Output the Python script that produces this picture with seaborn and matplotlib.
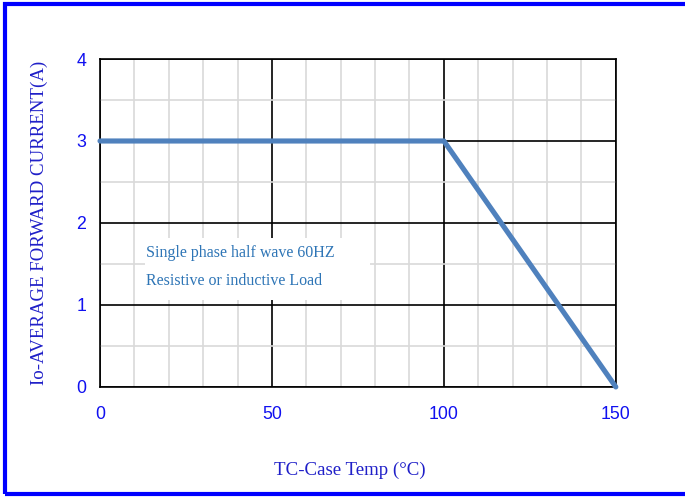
import matplotlib
matplotlib.use("Agg")
import matplotlib.pyplot as plt
from matplotlib.patches import Rectangle
from matplotlib.ticker import MultipleLocator
import seaborn as sns
import pandas as pd

# derating curve
case_temp = [0, 100, 150]
fwd_current = [3, 3, 0]
x_ticks = [0, 50, 100, 150]
y_ticks = [0, 1, 2, 3, 4]
note_lines = ["Single phase half wave 60HZ", "Resistive or inductive Load"]

df = pd.DataFrame({"temp": case_temp, "current": fwd_current})

sns.set_style("white")
plt.rcParams["font.family"] = ["Liberation Sans", "DejaVu Sans"]

fig = plt.figure(figsize=(6.85, 4.98), dpi=100)
ax = fig.add_axes([0.146, 0.223, 0.753, 0.6585])

sns.lineplot(data=df, x="temp", y="current", ax=ax, color="#4F81BD",
             linewidth=3.7, zorder=5, clip_on=False)

ax.set_xlim(0, 150)
ax.set_ylim(0, 4)
ax.set_xticks(x_ticks)
ax.set_yticks(y_ticks)
ax.xaxis.set_minor_locator(MultipleLocator(10))
ax.yaxis.set_minor_locator(MultipleLocator(0.5))
ax.grid(which="minor", color="#D9D9D9", linewidth=1.2, zorder=1)
ax.grid(which="major", color="black", linewidth=1.2, zorder=2)
ax.set_axisbelow(True)
for s in ax.spines.values():
    s.set_color("black")
    s.set_linewidth(1.2)

ax.tick_params(which="both", length=0)
ax.tick_params(axis="x", pad=14, labelsize=12.8, labelcolor="#1010F0")
ax.tick_params(axis="y", pad=10, labelsize=12.8, labelcolor="#1010F0")

ax.set_xlabel("TC-Case Temp (\u00b0C)", family="Liberation Serif",
              fontsize=13.6, color="#1F1FC8")
ax.xaxis.set_label_coords(0.485, -0.228)
ax.xaxis.label.set_va("top")
ax.set_ylabel("Io-AVERAGE FORWARD CURRENT(A)", family="Liberation Serif",
              fontsize=13.6, color="#1F1FC8", labelpad=20)

# white note box hiding the grid behind it
ax.add_patch(Rectangle((13.1, 1.06), 65.4, 0.76, facecolor="white",
                       edgecolor="none", zorder=3))
ax.text(13.5, 1.63, note_lines[0], family="Liberation Serif", fontsize=11.5,
        color="#2E75B6", va="center", zorder=4)
ax.text(13.5, 1.29, note_lines[1], family="Liberation Serif", fontsize=11.5,
        color="#2E75B6", va="center", zorder=4)

# blue frame around the figure (open on the right)
fig.patches.append(Rectangle((0.007, 0.008), 1.1, 0.984, transform=fig.transFigure,
                             fill=False, edgecolor="#0000FF", linewidth=3))

fig.savefig("out.png", dpi=100)
